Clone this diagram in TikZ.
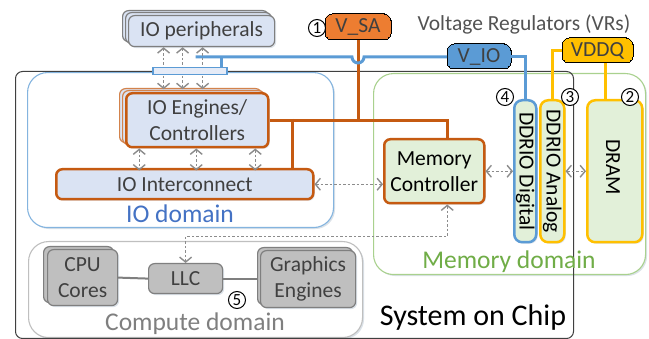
\documentclass[tikz,border=0pt]{standalone}
\usepackage{fontspec}
\setmainfont{Carlito}
\usetikzlibrary{arrows.meta,shadows,calc}
\definecolor{ioFill}{HTML}{DAE3F3}
\definecolor{memFill}{HTML}{E2F0D9}
\definecolor{orangeLine}{HTML}{C55A11}
\definecolor{orangeFill}{HTML}{ED7D31}
\definecolor{blueLine}{HTML}{5B9BD5}
\definecolor{ioBlue}{HTML}{4472C4}
\definecolor{vddqCol}{HTML}{FFC000}
\definecolor{memGreen}{HTML}{70AD47}
\definecolor{memBorder}{HTML}{A9D18E}
\definecolor{txt}{HTML}{404040}
\definecolor{grayFill}{HTML}{BFBFBF}
\definecolor{grayLine}{HTML}{7F7F7F}
\definecolor{arrowGray}{HTML}{8C8C8C}
\begin{document}
\begin{tikzpicture}[x=1pt,y=-1pt,
  mainfont/.style={font=\fontsize{21.5}{26}\selectfont},
  box/.style={draw, rounded corners=6pt, anchor=north west, inner sep=0pt,
    align=center, text=txt, mainfont},
  softshadow/.style={drop shadow={shadow xshift=1.5pt, shadow yshift=-1.5pt,
    opacity=0.18, fill=blueLine!60!black}},
  iobox/.style={box, fill=ioFill, draw=orangeLine, line width=2.5pt, softshadow},
  iobackbox/.style={box, fill=ioFill, draw=orangeLine!75, line width=1.2pt},
  perbox/.style={box, fill=ioFill, draw=grayLine, line width=1.2pt},
  graybox/.style={box, fill=grayFill, draw=grayLine, line width=1.2pt},
  membox/.style={box, fill=memFill, line width=2.5pt, softshadow},
  vrbox/.style={box, line width=0pt, rounded corners=7pt},
  domainbox/.style={draw, rounded corners=20pt, line width=1.1pt, anchor=north west, inner sep=0pt},
  numc/.style={circle, draw=black, fill=white, line width=1pt, inner sep=0pt,
    minimum size=17pt, font=\fontsize{17}{17}\selectfont},
  dotarrow/.style={arrowGray, line width=1.4pt, dash pattern=on 2.5pt off 2pt,
    {Straight Barb[length=5pt,width=12pt]}-{Straight Barb[length=5pt,width=12pt]}},
  orangeWire/.style={orangeLine, line width=3pt},
  blueWire/.style={blueLine, line width=3pt},
  yellowWire/.style={vddqCol, line width=3pt},
  grayWire/.style={grayLine, line width=2pt}]

\useasboundingbox (0,0) rectangle (649,339);

% ---------------- domains ----------------
\node[domainbox, draw=blueLine!75, fill=white, softshadow,
  minimum width=306pt, minimum height=155pt] (iodom) at (27,72) {};
\node[domainbox, draw=memBorder, fill=white, softshadow,
  minimum width=272pt, minimum height=201pt] (memdom) at (373,73) {};
\node[domainbox, draw=grayFill, fill=white, softshadow,
  minimum width=334pt, minimum height=96pt] (compdom) at (28,241) {};
\node[draw=txt, line width=1pt, rounded corners=7pt, anchor=north west, inner sep=0pt,
  minimum width=558pt, minimum height=267pt] (soc) at (15,71) {};

\node[text=ioBlue, font=\fontsize{25.5}{26}\selectfont] (iolbl) at (180,214) {IO domain};
\node[text=memGreen, font=\fontsize{25.5}{26}\selectfont] (memlbl) at (509,262) {Memory domain};
\node[text=grayLine, font=\fontsize{25.5}{26}\selectfont] (complbl) at (195,324) {Compute domain};
\node[text=black, font=\fontsize{30}{30}\selectfont] (soclbl) at (473,318) {System on Chip};
\node[text=txt!90, mainfont] (vrlbl) at (524,24) {Voltage Regulators (VRs)};

% ---------------- IO peripherals (stacked) ----------------
\node[perbox, minimum width=146pt, minimum height=31pt] (perC) at (122,10) {};
\node[perbox, minimum width=146pt, minimum height=31pt] (perB) at (125,12) {};
\node[perbox, softshadow, minimum width=146pt, minimum height=31pt] (per) at (128,15) {IO peripherals};

% ---------------- IO engines (stacked) ----------------
\node[iobackbox, minimum width=142pt, minimum height=54pt] (engC) at (119,88) {};
\node[iobackbox, minimum width=142pt, minimum height=54pt] (engB) at (122,90) {};
\node[iobox, minimum width=142pt, minimum height=54pt] (eng) at (125,92) {IO Engines/\\Controllers};

\node[iobox, minimum width=257pt, minimum height=30pt] (ic) at (55,168) {IO Interconnect};

% ---------------- memory side ----------------
\node[membox, draw=orangeLine, text=black, minimum width=100pt, minimum height=64pt] (mc) at (383,138) {Memory\\Controller};
\node[membox, draw=blueLine, rounded corners=8pt, minimum width=22pt, minimum height=142pt] (dig) at (513,99) {};
\node[membox, draw=vddqCol, rounded corners=8pt, minimum width=24pt, minimum height=142pt] (ana) at (539,99) {};
\node[membox, draw=vddqCol, rounded corners=8pt, minimum width=55pt, minimum height=142pt] (dram) at (586,99) {};
\node[rotate=-90, text=black, mainfont] (digtxt) at (dig.center) {DDRIO Digital};
\node[rotate=-90, text=black, mainfont] (anatxt) at (ana.center) {DDRIO Analog};
\node[rotate=-90, text=black, mainfont] (dramtxt) at (613,167) {DRAM};

% ---------------- compute ----------------
\node[graybox, minimum width=70pt, minimum height=56pt] (cpuB) at (43,246) {};
\node[graybox, softshadow, minimum width=70pt, minimum height=56pt] (cpu) at (47,249) {CPU\\Cores};
\node[graybox, softshadow, minimum width=74pt, minimum height=30pt] (llc) at (148,263) {LLC};
\node[graybox, minimum width=95pt, minimum height=57pt] (gfxB) at (257,247) {};
\node[graybox, softshadow, minimum width=95pt, minimum height=57pt] (gfx) at (260,250) {Graphics\\Engines};
\draw[grayWire] (cpu.east) -- (llc.west);
\draw[grayWire] (llc.east) -- (gfxB.west |- llc.east);

% ---------------- voltage regulators ----------------
\node[vrbox, fill=orangeFill, minimum width=66pt, minimum height=26pt] (vsa) at (325,14) {V\_SA};
\node[vrbox, fill=blueLine, minimum width=64pt, minimum height=25pt] (vio) at (447,44) {V\_IO};
\node[vrbox, fill=vddqCol, minimum width=71pt, minimum height=25pt] (vddq) at (562,38) {VDDQ};

% ---------------- power wiring ----------------
\coordinate (tap) at (292,119);
\coordinate (hopL) at (352,57);
\coordinate (vq) at (605,63);
\draw[orangeWire] (eng.east) -- ([xshift=13pt]mc.north |- eng.east) -- ([xshift=13pt]mc.north);
\draw[orangeWire] (vsa.south) -- (vsa.south |- eng.east);
\draw[orangeWire] (tap) -- (tap |- ic.north);
\draw[blueWire] ([xshift=-6pt]per.south |- hopL) -- (hopL)
  arc[start angle=180, end angle=360, radius=6pt] -- (vio.west |- hopL);
\draw[blueWire] (vio.east) -| (dig.north);
\draw[yellowWire] (vddq.west) -| (ana.north);
\draw[yellowWire] (vq) -- (vq |- dram.north);

% ---------------- IO bridge bar and data arrows ----------------
\draw[dotarrow] ([xshift=-38pt]per.south) -- ++(0,42);
\draw[dotarrow] ([xshift=-19pt]per.south) -- ++(0,42);
\draw[dotarrow] ([xshift=1pt]per.south) -- ++(0,42);
\node[draw=blueLine, line width=1.5pt, fill=ioFill!70, anchor=north west,
  minimum width=74pt, minimum height=7pt, inner sep=0pt] (bar) at (152,67) {};
\draw[blueWire] ([xshift=-6pt]bar.north east) -- ([xshift=-6pt]bar.north east |- hopL);

\draw[dotarrow] ([xshift=-58pt]eng.south) -- ++(0,22);
\draw[dotarrow] ([xshift=-1pt]eng.south) -- ++(0,22);
\draw[dotarrow] ([xshift=58pt]eng.south) -- ++(0,22);
\draw[dotarrow] (ic.east) -- (ic.east -| mc.west);
\draw[dotarrow] (mc.east) -- (mc.east -| dig.west);
\draw[dotarrow] (ana.east |- mc.east) -- (dram.west |- mc.east);
\draw[dotarrow] ([xshift=13pt]mc.south) -- ++(0,32) -| (llc.north);

% ---------------- numbered markers ----------------
\node[numc] (n1) at (317,28) {1};
\node[numc] (n2) at (630,97) {2};
\node[numc] (n3) at (570,97) {3};
\node[numc] (n4) at (505,97) {4};
\node[numc] (n5) at (237,300) {5};
\end{tikzpicture}
\end{document}
